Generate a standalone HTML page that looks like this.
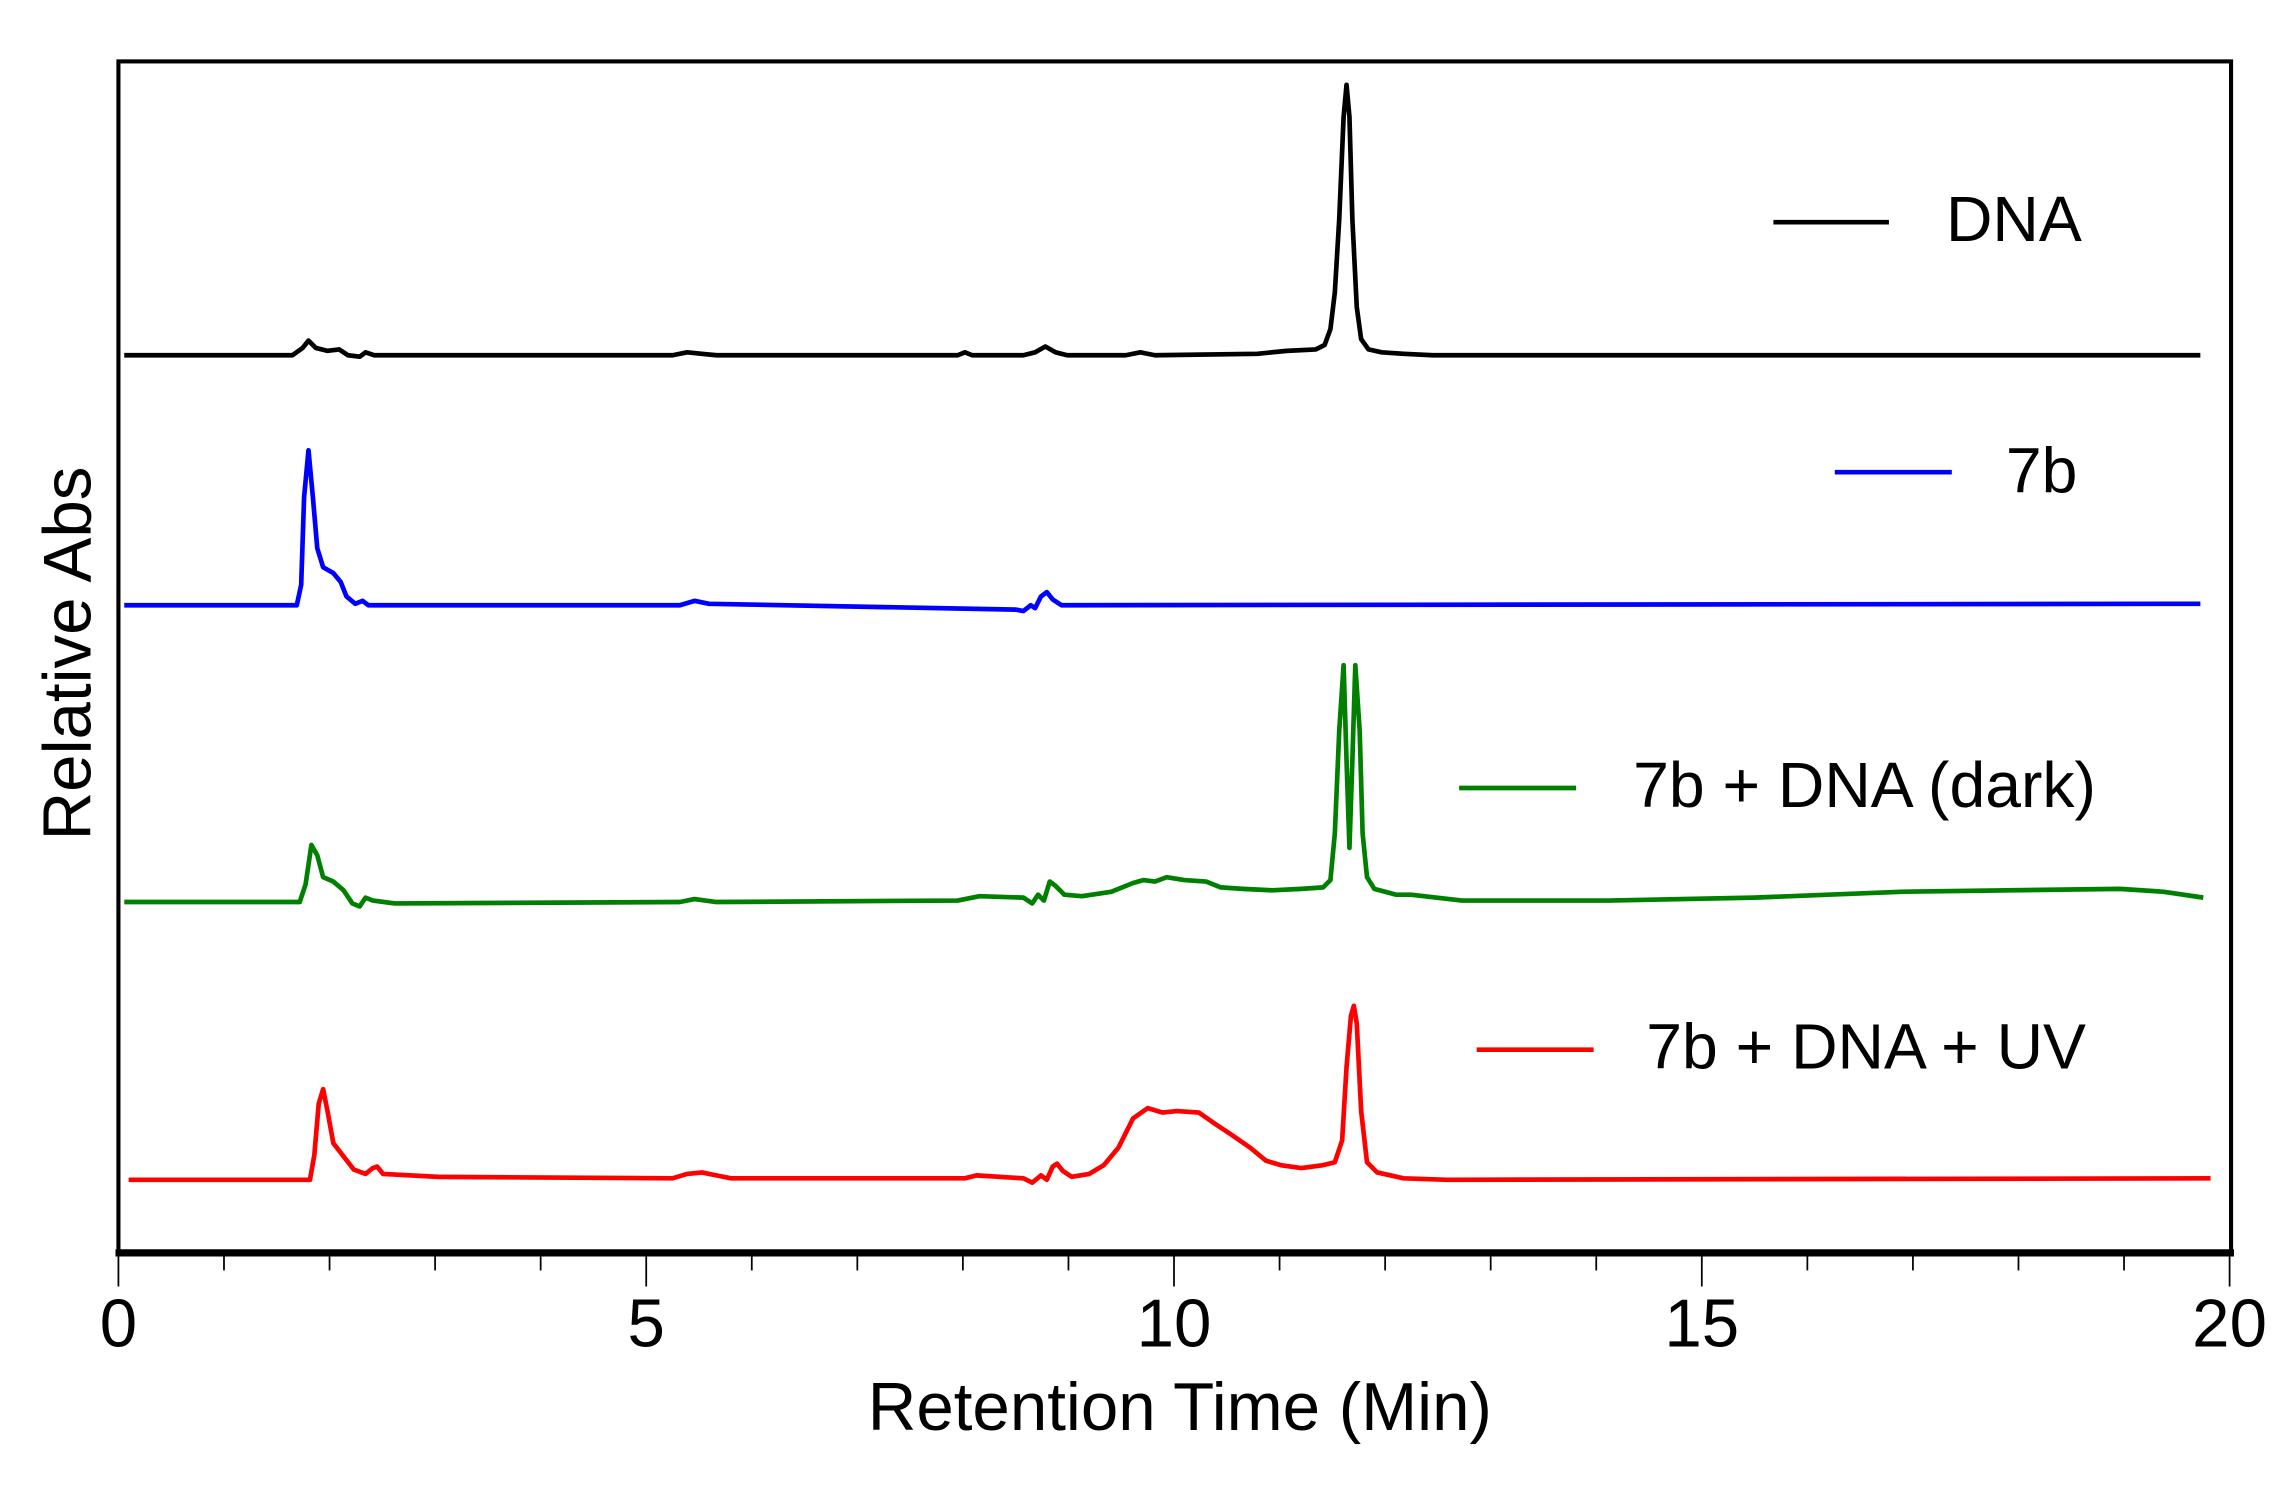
<!DOCTYPE html>
<html><head><meta charset="utf-8"><style>html,body{margin:0;padding:0;background:#fff}svg{display:block}</style></head>
<body>
<svg width="2291" height="1490" viewBox="0 0 1567 1019.2" preserveAspectRatio="none" xmlns="http://www.w3.org/2000/svg" font-family="Liberation Sans, Arial, sans-serif">
<rect x="81" y="42" width="1445" height="816" fill="none" stroke="#000" stroke-width="2.8"/>
<line x1="79" y1="857" x2="1528" y2="857" stroke="#000" stroke-width="5"/>
<g stroke="#000" stroke-width="1.2">
<line x1="81.0" y1="858" x2="81.0" y2="880"/><line x1="153.2" y1="858" x2="153.2" y2="869"/><line x1="225.4" y1="858" x2="225.4" y2="869"/><line x1="297.6" y1="858" x2="297.6" y2="869"/><line x1="369.8" y1="858" x2="369.8" y2="869"/><line x1="442.0" y1="858" x2="442.0" y2="880"/><line x1="514.2" y1="858" x2="514.2" y2="869"/><line x1="586.4" y1="858" x2="586.4" y2="869"/><line x1="658.6" y1="858" x2="658.6" y2="869"/><line x1="730.8" y1="858" x2="730.8" y2="869"/><line x1="803.0" y1="858" x2="803.0" y2="880"/><line x1="875.2" y1="858" x2="875.2" y2="869"/><line x1="947.4" y1="858" x2="947.4" y2="869"/><line x1="1019.6" y1="858" x2="1019.6" y2="869"/><line x1="1091.8" y1="858" x2="1091.8" y2="869"/><line x1="1164.0" y1="858" x2="1164.0" y2="880"/><line x1="1236.2" y1="858" x2="1236.2" y2="869"/><line x1="1308.4" y1="858" x2="1308.4" y2="869"/><line x1="1380.6" y1="858" x2="1380.6" y2="869"/><line x1="1452.8" y1="858" x2="1452.8" y2="869"/><line x1="1525.0" y1="858" x2="1525.0" y2="880"/>
</g>
<g font-size="46" text-anchor="middle" fill="#000">
<text x="81" y="921">0</text><text x="442" y="921">5</text><text x="803" y="921">10</text><text x="1164" y="921">15</text><text x="1525" y="921">20</text>
<text x="807" y="978">Retention Time (Min)</text>
<text transform="translate(62,447) rotate(-90)">Relative Abs</text>
</g>
<g fill="none" stroke-width="3.2" stroke-linejoin="round">
<path stroke="#000" d="M85,243 L200,243 L207,238 L211,233 L216,238 L224,240 L232,239 L238,243 L246,244 L250,241 L256,243 L460,243 L470,241 L480,242 L490,243 L655,243 L660,241 L665,243 L700,243 L708,241 L715,237 L722,241 L730,243 L770,243 L780,241 L790,243 L860,242 L880,240 L900,239 L906,236 L910,225 L913,200 L916,150 L919,80 L921,58 L923,80 L925,150 L928,210 L931,232 L936,239 L945,241 L960,242 L980,243 L1505,243"/>
<path stroke="#0000ff" d="M85,414 L203,414 L206,400 L208,340 L211,308 L214,340 L217,375 L221,388 L228,392 L233,398 L237,408 L243,413 L248,411 L252,414 L465,414 L475,411 L485,413 L695,417 L700,418 L705,414 L708,416 L712,408 L716,405 L720,410 L726,414 L1505,413"/>
<path stroke="#008000" d="M85,617 L205,617 L209,605 L213,578 L217,585 L221,600 L228,603 L235,609 L241,618 L246,620 L250,614 L255,616 L270,618 L465,617 L475,615 L490,617 L655,616 L670,613 L700,614 L706,618 L710,612 L714,616 L718,603 L722,606 L728,612 L740,613 L760,610 L775,604 L782,602 L790,603 L798,600 L810,602 L825,603 L835,607 L850,608 L870,609 L890,608 L905,607 L910,602 L913,570 L916,500 L919,455 L921,520 L923,580 L925,520 L927,455 L930,500 L932,570 L935,600 L940,608 L955,612 L965,612 L1000,616 L1100,616 L1200,614 L1300,610 L1450,608 L1480,610 L1507,614"/>
<path stroke="#ff0000" d="M88,807 L212,807 L215,790 L218,755 L221,745 L224,760 L228,782 L235,791 L242,800 L250,803 L255,799 L258,798 L262,803 L300,805 L460,806 L470,803 L480,802 L490,804 L500,806 L660,806 L668,804 L700,806 L706,809 L712,804 L716,807 L720,798 L723,796 L727,801 L733,805 L745,803 L755,797 L765,785 L775,765 L785,758 L795,761 L805,760 L820,761 L830,768 L842,776 L855,785 L866,794 L876,797 L890,799 L905,797 L913,795 L918,780 L921,730 L924,695 L926,688 L928,700 L931,760 L935,795 L942,802 L960,806 L990,807 L1512,806"/>
</g>
<g stroke-width="3.2">
<line x1="1213" y1="152" x2="1292" y2="152" stroke="#000"/>
<line x1="1255" y1="323" x2="1335" y2="323" stroke="#0000ff"/>
<line x1="998" y1="539" x2="1078" y2="539" stroke="#008000"/>
<line x1="1010" y1="718" x2="1090" y2="718" stroke="#ff0000"/>
</g>
<g font-size="44" fill="#000">
<text x="1331" y="165">DNA</text>
<text x="1372" y="337">7b</text>
<text x="1117" y="552">7b + DNA (dark)</text>
<text x="1126" y="731">7b + DNA + UV</text>
</g>
</svg>
</body></html>
